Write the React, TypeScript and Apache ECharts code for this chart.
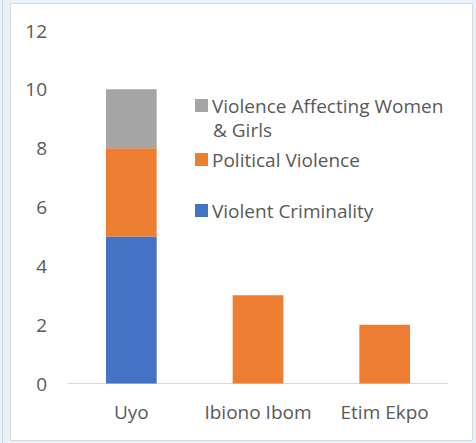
import React, { useEffect, useRef } from "react";
import * as echarts from "echarts";

const categories = ["Uyo", "Ibiono Ibom", "Etim Ekpo"];
const violentCriminality = [5, 0, 0];
const politicalViolence = [3, 3, 2];
const vawg = [2, 0, 0];
const yTicks = { min: 0, max: 12, interval: 2 };

const FONT = "'Open Sans', Lato, sans-serif";
const TXT = "#595959";
const FS = 19;

export default function App() {
  const ref = useRef<HTMLDivElement>(null);
  useEffect(() => {
    const chart = echarts.init(ref.current!, null, { renderer: "svg" });
    const legendBase = {
      orient: "vertical" as const,
      left: 195,
      itemWidth: 13,
      itemHeight: 13,
      itemGap: 4,
      icon: "rect",
      textStyle: { color: TXT, fontSize: FS, fontFamily: FONT, padding: [0, 0, 0, -1] },
      selectedMode: false,
      padding: 0,
    };
    chart.setOption({
      animation: false,
      graphic: [
        { type: "rect", z: -10, silent: true, shape: { x: 0, y: 0, width: 476, height: 443 }, style: { fill: "#e9f1fa" } },
        { type: "line", z: -9, silent: true, shape: { x1: 2.5, y1: 0, x2: 2.5, y2: 443 }, style: { stroke: "#cfd6de", lineWidth: 1 } },
        { type: "rect", z: -9, silent: true, shape: { x: 10.5, y: 3.5, width: 462, height: 437 }, style: { fill: "#ffffff", stroke: "#d9d9d9", lineWidth: 1 } },
        { type: "text", left: 213, top: 120, style: { text: "& Girls", fill: TXT, fontSize: FS, fontFamily: FONT } },
      ],
      grid: { left: 68, right: 28, top: 30.5, bottom: 59.5, containLabel: false },
      legend: [
        { ...legendBase, top: 96, data: ["Violence Affecting Women & Girls"], formatter: () => "Violence Affecting Women" },
        { ...legendBase, top: 150, data: ["Political Violence"] },
        { ...legendBase, top: 201, data: ["Violent Criminality"] },
      ],
      xAxis: {
        type: "category",
        data: categories,
        axisTick: { show: false },
        axisLine: { lineStyle: { color: "#d9d9d9", width: 1 } },
        axisLabel: { color: TXT, fontSize: FS, fontFamily: FONT, margin: 19, interval: 0 },
      },
      yAxis: {
        type: "value",
        min: yTicks.min,
        max: yTicks.max,
        interval: yTicks.interval,
        splitLine: { show: false },
        axisLine: { show: false },
        axisTick: { show: false },
        axisLabel: { color: TXT, fontSize: FS, fontFamily: FONT, margin: 21 },
      },
      series: [
        { name: "Violent Criminality", type: "bar", stack: "a", barWidth: "40%", data: violentCriminality, itemStyle: { color: "#4472c4" } },
        { name: "Political Violence", type: "bar", stack: "a", barWidth: "40%", data: politicalViolence, itemStyle: { color: "#ed7d31" } },
        { name: "Violence Affecting Women & Girls", type: "bar", stack: "a", barWidth: "40%", data: vawg, itemStyle: { color: "#a5a5a5" } },
      ],
    });
    return () => chart.dispose();
  }, []);
  return (
    <div style={{ position: "absolute", left: 0, top: 0, width: 476, height: 443 }}>
      <div ref={ref} style={{ width: 476, height: 443 }} />
    </div>
  );
}
